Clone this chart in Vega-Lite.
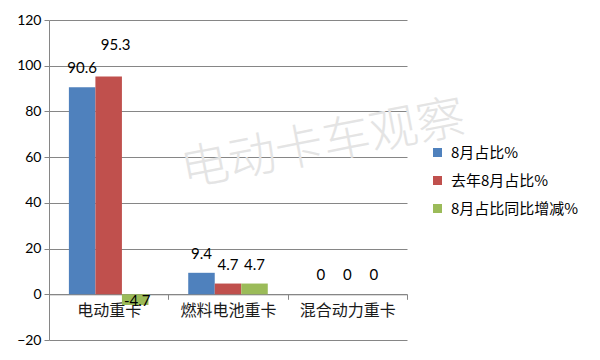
{
  "$schema": "https://vega.github.io/schema/vega-lite/v6.json",
  "autosize": {"type": "none"},
  "padding": {"left": 49, "top": 20, "right": 193, "bottom": 20},
  "width": 358,
  "height": 320,
  "background": "white",
  "config": {
    "view": {"stroke": null},
    "font": "Lato, Noto Sans CJK SC",
    "axisY": {
      "grid": true, "gridColor": "#868686", "gridOpacity": 1, "domainColor": "#868686", "tickColor": "#868686",
      "tickSize": 5, "labelFontSize": 14, "labelColor": "#000000", "labelPadding": 3, "title": null
    }
  },
  "datasets": {
    "bars": [
      {"cat": "电动重卡", "s": "8月占比%", "value": 90.6},
      {"cat": "电动重卡", "s": "去年8月占比%", "value": 95.3},
      {"cat": "电动重卡", "s": "8月占比同比增减%", "value": -4.7},
      {"cat": "燃料电池重卡", "s": "8月占比%", "value": 9.4},
      {"cat": "燃料电池重卡", "s": "去年8月占比%", "value": 4.7},
      {"cat": "燃料电池重卡", "s": "8月占比同比增减%", "value": 4.7},
      {"cat": "混合动力重卡", "s": "8月占比%", "value": 0},
      {"cat": "混合动力重卡", "s": "去年8月占比%", "value": 0},
      {"cat": "混合动力重卡", "s": "8月占比同比增减%", "value": 0}
    ],
    "wm": [{"t": "电动卡车观察"}]
  },
  "layer": [
    {
      "data": {"name": "bars"},
      "mark": {"type": "bar"},
      "encoding": {
        "x": {
          "field": "cat", "type": "nominal",
          "sort": ["电动重卡", "燃料电池重卡", "混合动力重卡"],
          "scale": {"paddingInner": 0, "paddingOuter": 0},
          "axis": {
            "title": null, "labelAngle": 0, "offset": -45.7,
            "domainColor": "#868686", "tickColor": "#868686", "tickBand": "extent",
            "tickSize": 5, "labelFont": "Noto Sans CJK SC", "labelFontSize": 16,
            "labelAlign": "center",
            "labelColor": "#1a1a1a", "labelPadding": 3, "grid": false
          }
        },
        "xOffset": {
          "field": "s", "type": "nominal",
          "sort": ["8月占比%", "去年8月占比%", "8月占比同比增减%"],
          "scale": {"paddingInner": 0, "paddingOuter": 0.75}
        },
        "y": {
          "field": "value", "type": "quantitative",
          "scale": {"domain": [-20, 120], "nice": false, "zero": false},
          "axis": {"values": [-20, 0, 20, 40, 60, 80, 100, 120]}
        },
        "color": {
          "field": "s", "type": "nominal",
          "sort": ["8月占比%", "去年8月占比%", "8月占比同比增减%"],
          "scale": {"domain": ["8月占比%", "去年8月占比%", "8月占比同比增减%"], "range": ["#4F81BD", "#C0504D", "#9BBB59"]},
          "legend": {
            "title": null, "orient": "none", "legendX": 381, "legendY": 125, "padding": 0,
            "symbolType": "square", "symbolSize": 81, "symbolStrokeWidth": 0,
            "labelFont": "Noto Sans CJK SC", "labelFontSize": 15, "labelColor": "#000000",
            "rowPadding": 12, "labelOffset": 6
          }
        }
      }
    },
    {
      "data": {"name": "wm"},
      "mark": {"type": "text", "fontSize": 48, "font": "Noto Sans CJK SC", "fontWeight": 300, "color": "#e4e4e4", "angle": -11, "dx": 97},
      "encoding": {
        "x": {"datum": "燃料电池重卡"},
        "y": {"datum": 57},
        "text": {"field": "t"}
      }
    },
    {
      "data": {"name": "bars"},
      "transform": [{"filter": "datum.value >= 0 && datum.value < 95"}],
      "mark": {"type": "text", "baseline": "alphabetic", "dy": -14, "fontSize": 15, "color": "#000000"},
      "encoding": {
        "x": {"field": "cat", "type": "nominal", "sort": ["电动重卡", "燃料电池重卡", "混合动力重卡"]},
        "xOffset": {"field": "s", "type": "nominal", "sort": ["8月占比%", "去年8月占比%", "8月占比同比增减%"]},
        "y": {"field": "value", "type": "quantitative"},
        "text": {"field": "value"}
      }
    },
    {
      "data": {"name": "bars"},
      "transform": [{"filter": "datum.value >= 95"}],
      "mark": {"type": "text", "baseline": "alphabetic", "dy": -26, "dx": 7, "fontSize": 15, "color": "#000000"},
      "encoding": {
        "x": {"field": "cat", "type": "nominal", "sort": ["电动重卡", "燃料电池重卡", "混合动力重卡"]},
        "xOffset": {"field": "s", "type": "nominal", "sort": ["8月占比%", "去年8月占比%", "8月占比同比增减%"]},
        "y": {"field": "value", "type": "quantitative"},
        "text": {"field": "value"}
      }
    },
    {
      "data": {"name": "bars"},
      "transform": [{"filter": "datum.value < 0"}],
      "mark": {"type": "text", "baseline": "alphabetic", "dy": 1, "dx": 2, "fontSize": 15, "color": "#000000"},
      "encoding": {
        "x": {"field": "cat", "type": "nominal", "sort": ["电动重卡", "燃料电池重卡", "混合动力重卡"]},
        "xOffset": {"field": "s", "type": "nominal", "sort": ["8月占比%", "去年8月占比%", "8月占比同比增减%"]},
        "y": {"field": "value", "type": "quantitative"},
        "text": {"field": "value"}
      }
    }
  ]
}
